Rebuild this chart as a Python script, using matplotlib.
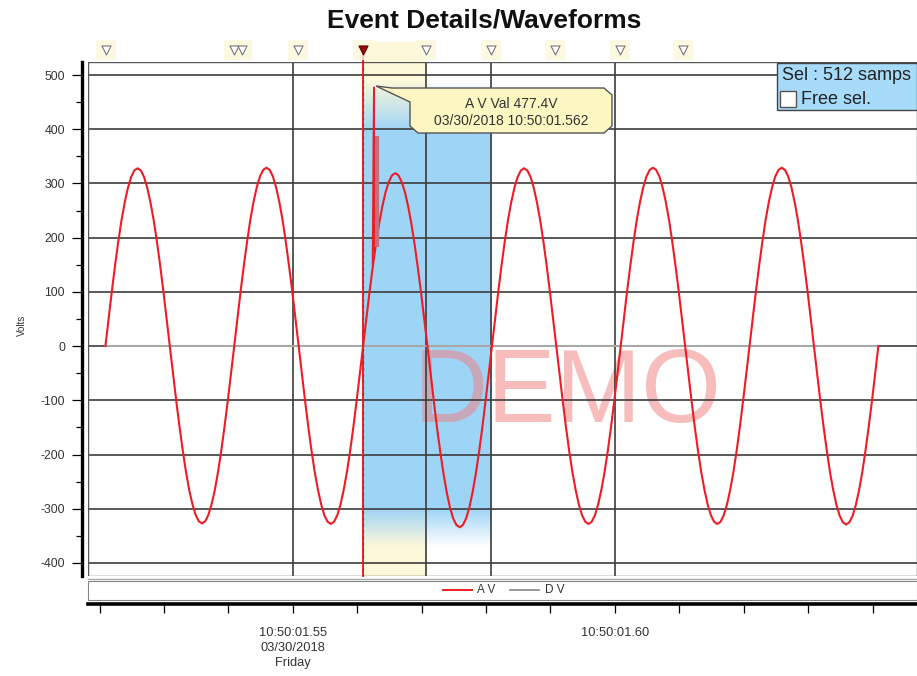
import matplotlib
matplotlib.use("Agg")
import matplotlib.pyplot as plt
import numpy as np
from matplotlib.patches import Rectangle, Polygon
from matplotlib.lines import Line2D
from matplotlib.transforms import blended_transform_factory

plt.rcParams['font.family'] = ['Liberation Sans', 'DejaVu Sans']
plt.rcParams['axes.unicode_minus'] = False

# ---------------- data ----------------
title = "Event Details/Waveforms"
y_label = "Volts"
y_ticks = [-400, -300, -200, -100, 0, 100, 200, 300, 400, 500]
x_major_ticks = [0.55, 0.60]
x_major_labels = ["10:50:01.55\n03/30/2018\nFriday", "10:50:01.60"]
x_minor_ticks = [0.52, 0.53, 0.54, 0.56, 0.57, 0.58, 0.59, 0.61, 0.62, 0.63, 0.64]

# A V waveform sampled every 0.5 ms (seconds after 10:50:01)
av_start = 0.5209
av_step = 0.0005
av_values = [
    # cycle 1
    0, 51, 101, 149, 193, 232, 265, 292, 312, 324, 328, 324, 312, 292, 265, 232, 193, 149, 101, 51,
    0, -51, -101, -148, -192, -231, -265, -291, -311, -323, -327, -323, -311, -291, -265, -231, -192, -148, -101, -51,
    # cycle 2
    0, 51, 102, 149, 193, 233, 266, 293, 313, 325, 329, 325, 313, 293, 266, 233, 193, 149, 102, 51,
    0, -51, -101, -149, -193, -232, -265, -292, -312, -324, -328, -324, -312, -292, -265, -232, -193, -149, -101, -51,
    # cycle 3 (disturbed)
    0, 50, 99, 145, 188, 226, 258, 284, 303, 315, 319, 315, 303, 284, 258, 226, 188, 145, 99, 50,
    0, -52, -103, -152, -196, -236, -270, -298, -318, -330, -334, -330, -318, -298, -270, -236, -196, -152, -103, -52,
    # cycle 4
    0, 51, 101, 149, 193, 232, 265, 292, 312, 324, 328, 324, 312, 292, 265, 232, 193, 149, 101, 51,
    0, -51, -101, -149, -193, -232, -265, -292, -312, -324, -328, -324, -312, -292, -265, -232, -193, -149, -101, -51,
    # cycle 5
    0, 51, 102, 149, 193, 233, 266, 293, 313, 325, 329, 325, 313, 293, 266, 233, 193, 149, 102, 51,
    0, -51, -101, -149, -193, -232, -265, -292, -312, -324, -328, -324, -312, -292, -265, -232, -193, -149, -101, -51,
    # cycle 6
    0, 51, 102, 149, 193, 233, 266, 293, 313, 325, 329, 325, 313, 293, 266, 233, 193, 149, 102, 51,
    0, -51, -102, -149, -193, -233, -266, -293, -313, -325, -329, -325, -313, -293, -266, -233, -193, -149, -102, -51,
    0,
]
# transient spike
spike_t = [0.5624, 0.5626, 0.5626, 0.5627]
spike_v = [150, 477, 183, 178]
spike_band_t = 0.56285
spike_band_low, spike_band_high = 183, 388

# D V trace
dv_t = [0.5209, 0.6409]
dv_v = [0, 0]

# event markers / cursor / selection
marker_times = [0.5210, 0.5409, 0.5421, 0.5508, 0.5609, 0.5707, 0.5808, 0.5907, 0.6008, 0.6106]
cursor_time = 0.5609
half_time = 0.5707
sel_end_time = 0.5808
vgrid_times = [0.55, 0.5707, 0.5808, 0.60]

tooltip_lines = ["A V Val 477.4V", "03/30/2018 10:50:01.562"]
sel_text = "Sel : 512 samps"
free_text = "Free sel."
legend_labels = ["A V", "D V"]

# ---------------- figure ----------------
W, H = 917, 676
fig = plt.figure(figsize=(W / 100, H / 100), dpi=100)


def fx(x):
    return x / W


def fy(y):
    return 1 - y / H


ax = fig.add_axes([fx(88), fy(576), fx(917) - fx(88), fy(62) - fy(576)])
xlim = (0.5182, 0.6469)
ylim = (-424, 524)

# cream region for half cycle after cursor
ax.axvspan(cursor_time, half_time, color='#fdf8da', zorder=0.5, lw=0)

# blue selection gradient
blue = np.array([0.62, 0.835, 0.965])
rows = np.linspace(490, -371, 300)
alpha = np.interp(rows, [-371, -302, 398, 490], [0, 1, 1, 0])
img = np.zeros((300, 2, 4))
img[:, :, :3] = blue
img[:, :, 3] = alpha[:, None]
ax.imshow(img, extent=[cursor_time, sel_end_time, -371, 490], aspect='auto',
          zorder=1, interpolation='bilinear')

# DEMO watermark
ax.text(0.5927, -140, "DEMO", fontsize=74, color='#f08080', alpha=0.52,
        ha='center', va='baseline', zorder=1.5)

# grid
for v in y_ticks:
    ax.axhline(v, color='#3c3c3c', lw=1.2, zorder=2)
for t in vgrid_times:
    ax.axvline(t, color='#3c3c3c', lw=1.2, zorder=2)

# frame
ax.add_patch(Rectangle((0, 0), 1, 1, transform=ax.transAxes, fill=False,
                       ec='#555555', lw=1.0, zorder=2.5))

# traces
av_t = av_start + np.arange(len(av_values)) * av_step
ax.plot(dv_t, dv_v, color='#a8a8a8', lw=1.5, zorder=3)
ax.plot(av_t, av_values, color='#ee1c24', lw=1.5, zorder=4)
ax.plot([spike_band_t, spike_band_t], [spike_band_low, spike_band_high],
        color='#c4707c', lw=4.5, zorder=4, solid_capstyle='butt')
ax.plot(spike_t, spike_v, color='#ee1c24', lw=1.4, zorder=4.5)

# cursor
trans = blended_transform_factory(ax.transData, fig.transFigure)
for art in [Line2D([cursor_time, cursor_time], [fy(576), fy(52)], color='#ee2020', lw=1.4,
                   transform=trans, zorder=5),
            Line2D([cursor_time, cursor_time], [fy(576), fy(52)], color='#505050', lw=0.9,
                   ls=(0, (2, 3)), transform=trans, zorder=5.1)]:
    art.set_clip_on(False)
    ax.add_line(art)

# cream area above plot
top_cream = Rectangle((cursor_time, fy(62)), half_time - cursor_time, fy(42) - fy(62),
                      transform=trans, color='#fdf8da', lw=0, clip_on=False, zorder=0.5)
ax.add_patch(top_cream)

# event markers
for t in marker_times:
    ax.scatter([t], [fy(50)], marker='s', s=14 ** 2, color='#fcf8dc', alpha=0.8,
               transform=trans, clip_on=False, zorder=5.5, lw=0)
for t in marker_times:
    is_cur = abs(t - cursor_time) < 1e-6
    ax.scatter([t], [fy(50)], marker='v', s=6.5 ** 2,
               facecolor='#9a0c0c' if is_cur else 'white',
               edgecolor='#6a0000' if is_cur else '#777777', lw=0.8,
               transform=trans, clip_on=False, zorder=6)

ax.set_xlim(*xlim)
ax.set_ylim(*ylim)

# y axis styling
for s in ['top', 'right', 'bottom']:
    ax.spines[s].set_visible(False)
ax.spines['left'].set_position(('outward', 4.3))
ax.spines['left'].set_linewidth(2.4)
ax.spines['left'].set_color('black')
ax.set_yticks(y_ticks)
ax.set_yticks([v + 50 for v in y_ticks[:-1]], minor=True)
ax.tick_params(axis='y', which='major', length=7.2, width=0.9, direction='out',
               pad=5, labelsize=8.8, labelcolor='#333333')
ax.tick_params(axis='y', which='minor', length=4.3, width=0.9, direction='out')
ax.set_xticks([])
ax.patch.set_visible(False)

# x axis (separate thick axis below the legend strip)
ax2 = fig.add_axes([fx(88), fy(604), fx(917) - fx(88), 0.0001])
ax2.set_xlim(*xlim)
ax2.set_ylim(0, 1)
for s in ['top', 'left', 'right']:
    ax2.spines[s].set_visible(False)
ax2.spines['bottom'].set_linewidth(2.6)
ax2.spines['bottom'].set_color('black')
ax2.patch.set_visible(False)
ax2.set_yticks([])
ax2.set_xticks(x_major_ticks)
ax2.set_xticklabels(x_major_labels, linespacing=1.35)
ax2.set_xticks(x_minor_ticks, minor=True)
ax2.tick_params(axis='x', which='both', length=6.5, width=0.9, direction='out',
                pad=10, labelsize=9.3, labelcolor='#333333')

# legend strip
fig.add_artist(Line2D([fx(88), fx(917)], [fy(579), fy(579)], color='#aaaaaa', lw=1,
                      transform=fig.transFigure))
fig.add_artist(Rectangle((fx(88), fy(600)), fx(917) - fx(88), fy(581) - fy(600),
                         transform=fig.transFigure, fc='white', ec='#888888', lw=0.8))
fig.add_artist(Line2D([fx(443), fx(472)], [fy(590), fy(590)], color='#ee1c24', lw=1.4,
                      transform=fig.transFigure))
fig.text(fx(477), fy(590), legend_labels[0], fontsize=8.5, color='#333333',
         ha='left', va='center')
fig.add_artist(Line2D([fx(510), fx(539)], [fy(590), fy(590)], color='#999999', lw=1.4,
                      transform=fig.transFigure))
fig.text(fx(545), fy(590), legend_labels[1], fontsize=8.5, color='#333333',
         ha='left', va='center')

# title and y label
fig.text(fx(484), fy(21), title, fontsize=19, fontweight='bold', ha='center',
         va='center', color='#111111')
fig.text(fx(22), fy(325), y_label, fontsize=7, rotation=90, ha='center', va='center',
         color='#333333')

# tooltip callout
pts = [(376, 86), (392, 88), (604, 88), (612, 95), (612, 126), (604, 133),
       (418, 133), (410, 126), (410, 102)]
fig.add_artist(Polygon([(fx(x), fy(y)) for x, y in pts], closed=True,
                       transform=fig.transFigure, fc='#fcf7c2', ec='#555555', lw=1,
                       zorder=10))
fig.text(fx(511), fy(104), tooltip_lines[0], fontsize=10, color='#333333',
         ha='center', va='center', zorder=11)
fig.text(fx(511), fy(121), tooltip_lines[1], fontsize=10, color='#333333',
         ha='center', va='center', zorder=11)

# selection info box
fig.add_artist(Rectangle((fx(777), fy(110)), fx(917) - fx(777), fy(63) - fy(110),
                         transform=fig.transFigure, fc='#a6dbfa', ec='#444444', lw=1,
                         zorder=10))
fig.text(fx(782), fy(75), sel_text, fontsize=13, color='#222222',
         ha='left', va='center', zorder=11)
fig.add_artist(Rectangle((fx(780), fy(107)), fx(796) - fx(780), fy(91) - fy(107),
                         transform=fig.transFigure, fc='white', ec='#555555', lw=1,
                         zorder=11))
fig.text(fx(801), fy(99), free_text, fontsize=13, color='#222222',
         ha='left', va='center', zorder=11)

fig.savefig("out.png", dpi=100)
